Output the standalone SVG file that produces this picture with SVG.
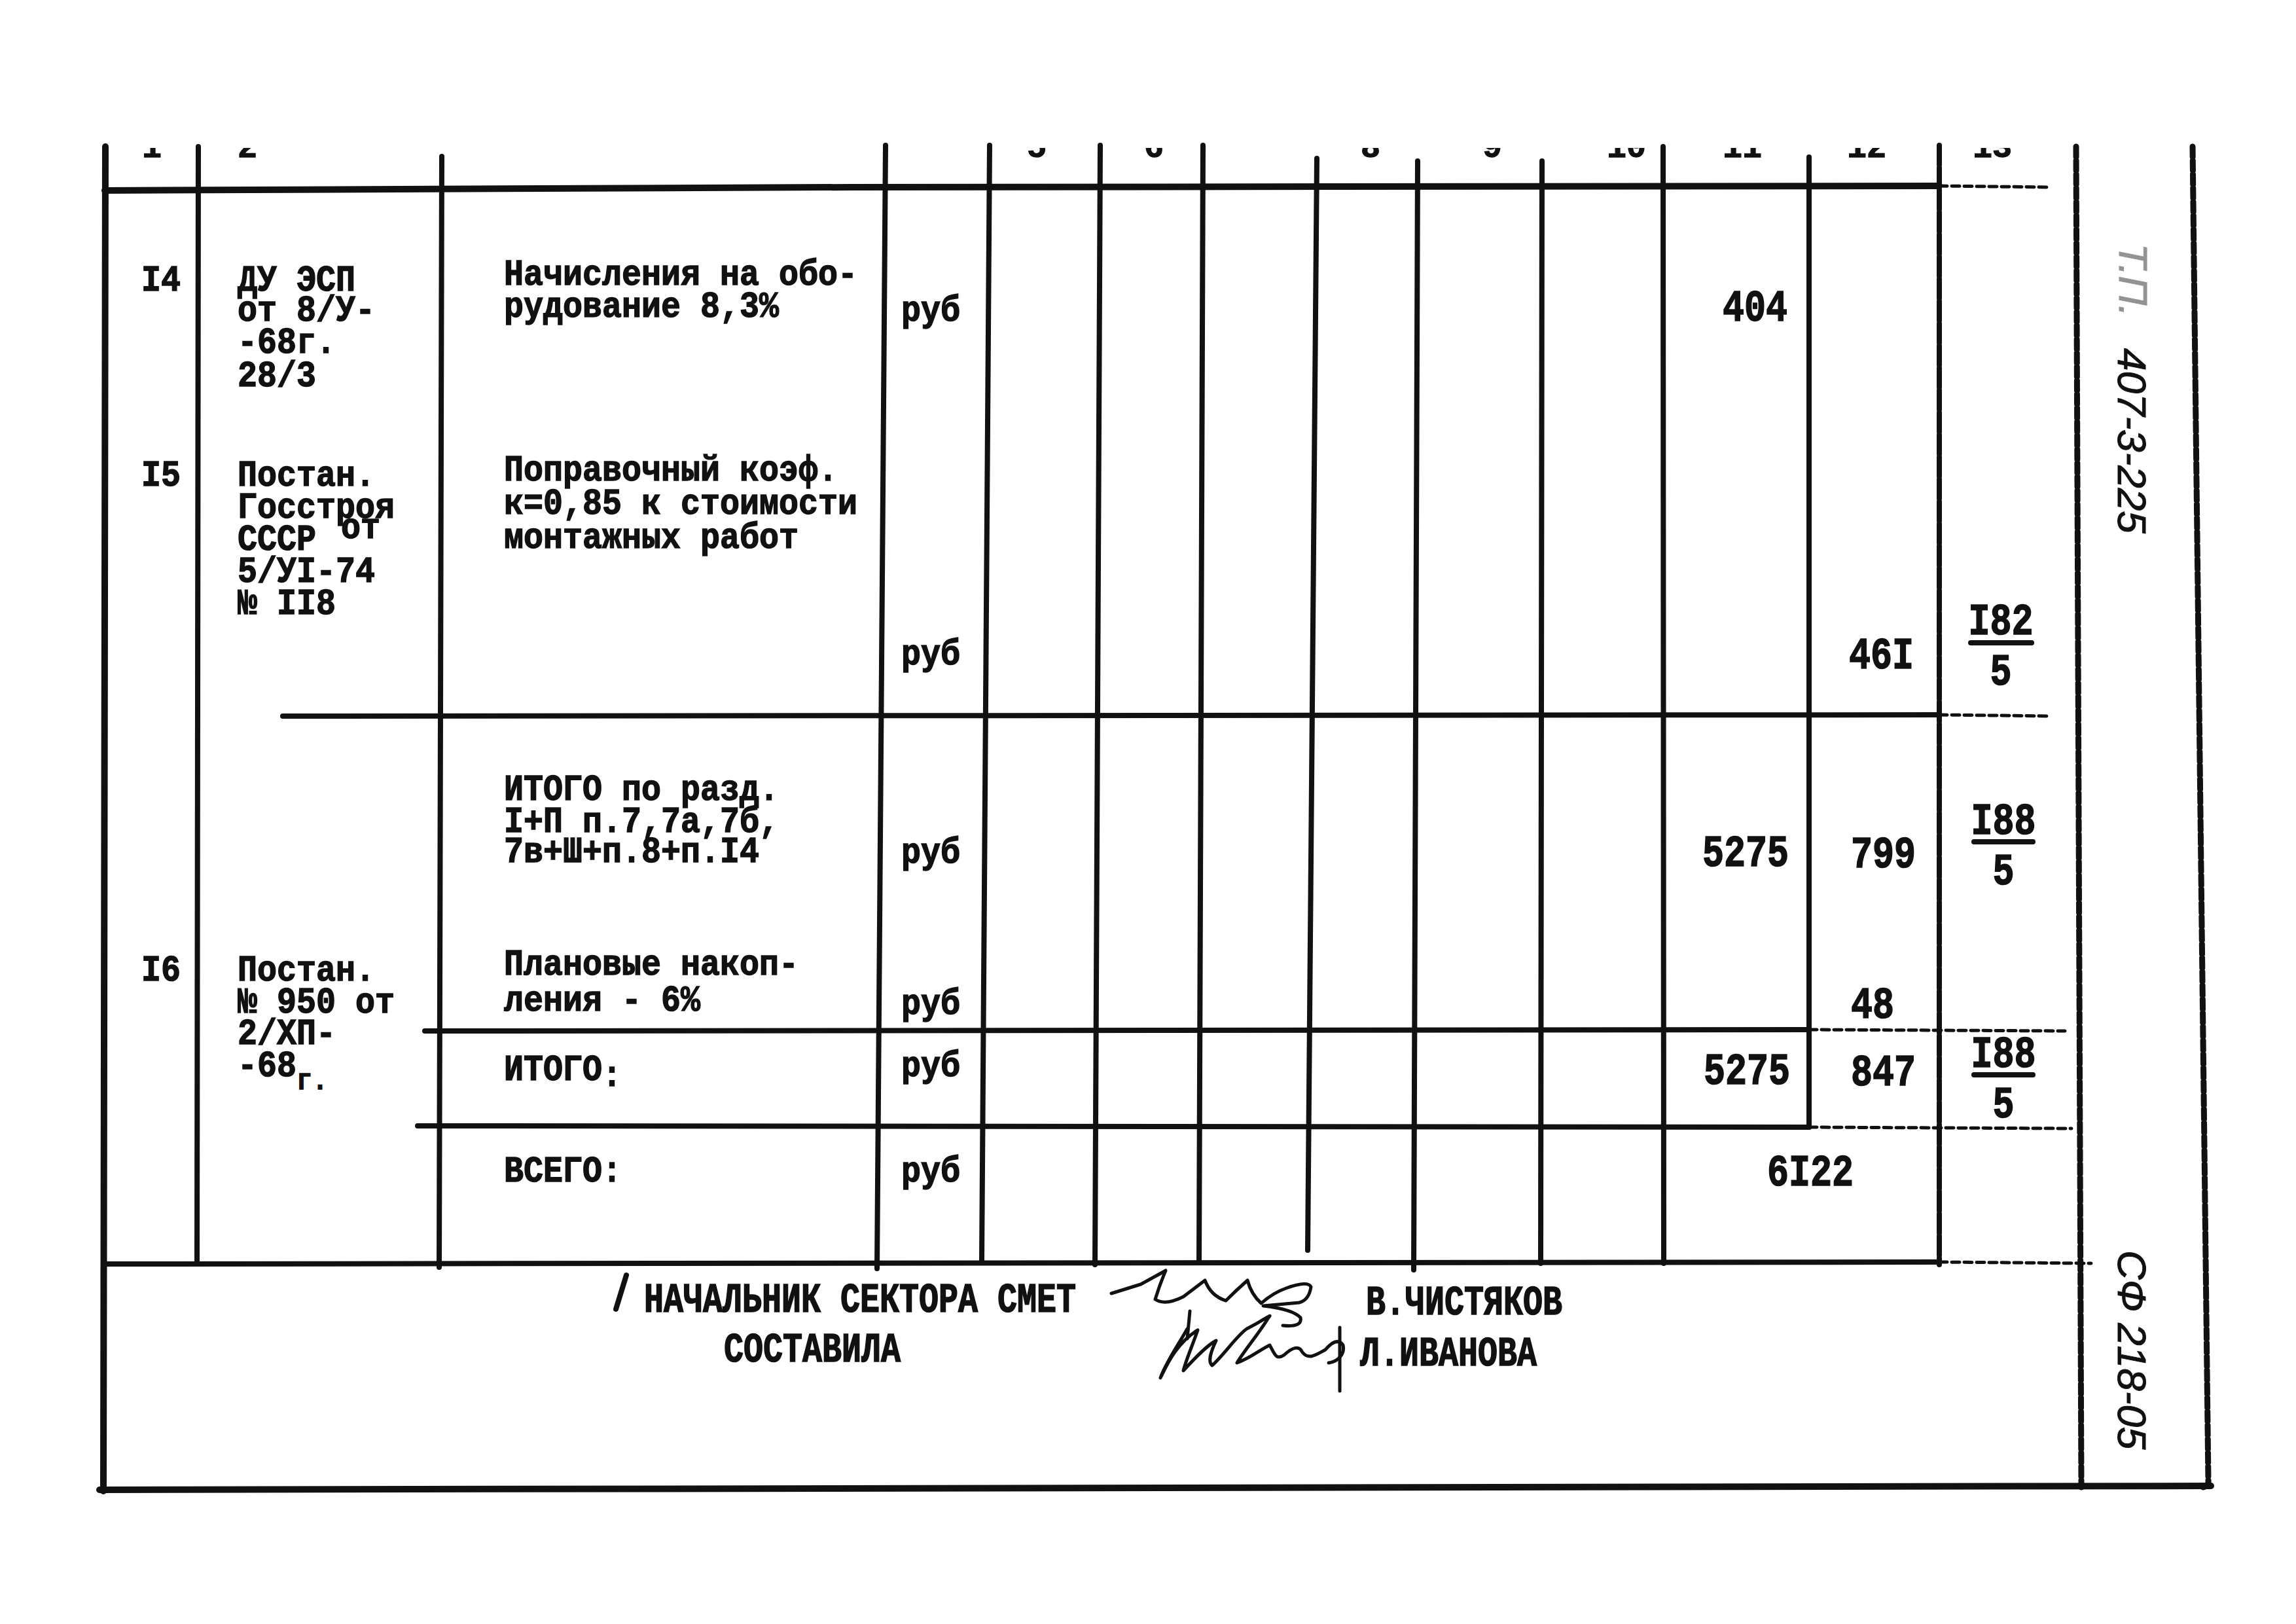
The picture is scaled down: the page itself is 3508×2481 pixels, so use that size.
<svg xmlns="http://www.w3.org/2000/svg" width="3508" height="2481" viewBox="0 0 3508 2481">
<defs>
<style>
.t { font-family: "Liberation Mono", "DejaVu Sans Mono", monospace; font-weight: bold; font-size: 50px; fill: #111; stroke: #111; stroke-width: 1.3; }
.n { font-family: "Liberation Mono", "DejaVu Sans Mono", monospace; font-weight: bold; font-size: 55px; fill: #111; stroke: #111; stroke-width: 1.3; }
.c { text-anchor: middle; }
.e { text-anchor: end; }
.ln { stroke: #111; stroke-width: 8; fill: none; stroke-linecap: round; }
.thick { stroke-width: 10; }
.dash { stroke-dasharray: 12 7; stroke-width: 5; }
.fdash { stroke-dasharray: 16 5; stroke-width: 9; }
.sig { stroke: #111; stroke-width: 5; fill: none; stroke-linecap: round; stroke-linejoin: round; }
.hand { font-family: "Liberation Sans", "DejaVu Sans", sans-serif; font-style: italic; font-size: 62px; fill: #111; stroke: #111; stroke-width: 1; }
.faint { opacity: 0.45; }
</style>
<clipPath id="topclip"><rect x="0" y="226" width="3508" height="60"/></clipPath>
</defs>
<rect width="3508" height="2481" fill="#ffffff"/>

<!-- header column numbers (cut off at page top) -->
<g id="header-numbers" clip-path="url(#topclip)">
<text class="t c" x="232" y="240">1</text>
<text class="t c" x="378" y="240">2</text>
<text class="t c" x="1584" y="240">5</text>
<text class="t c" x="1763" y="240">6</text>
<text class="t c" x="2094" y="240">8</text>
<text class="t c" x="2280" y="240">9</text>
<text class="t c" x="2485" y="240">10</text>
<text class="t c" x="2662" y="240">11</text>
<text class="t c" x="2852" y="240">12</text>
<text class="t c" x="3044" y="240">13</text>
</g>

<g id="grid">
<!-- horizontal lines -->
<path class="ln thick" d="M160 291 L1300 286 L2963 284"/>
<path class="ln dash" d="M2963 284 L3130 286"/>
<path class="ln" d="M432 1094 L2963 1092"/>
<path class="ln dash" d="M2963 1092 L3132 1094"/>
<path class="ln" d="M649 1575 L2764 1573"/>
<path class="ln dash" d="M2764 1573 L3155 1575"/>
<path class="ln" d="M638 1720 L2764 1722"/>
<path class="ln dash" d="M2764 1722 L3165 1724"/>
<path class="ln" d="M160 1931 L2963 1928"/>
<path class="ln dash" d="M2963 1928 L3195 1930"/>
<path class="ln thick" d="M152 2276 L3378 2270"/>
<!-- vertical lines -->
<path class="ln thick" d="M161 224 L158 2278"/>
<path class="ln" d="M303 224 L301 1928"/>
<path class="ln" d="M675 239 L671 1936"/>
<path class="ln" d="M1353 222 L1340 1938"/>
<path class="ln" d="M1512 222 L1500 1925"/>
<path class="ln" d="M1681 222 L1673 1932"/>
<path class="ln" d="M1838 222 L1832 1928"/>
<path class="ln" d="M2012 242 L1998 1910"/>
<path class="ln" d="M2166 246 L2160 1940"/>
<path class="ln" d="M2356 246 L2354 1930"/>
<path class="ln" d="M2541 224 L2542 1930"/>
<path class="ln" d="M2764 240 L2764 1722"/>
<path class="ln" d="M2963 222 L2963 1932" stroke-dasharray="30 4"/>
<path class="ln fdash" d="M3172 224 L3180 2272"/>
<path class="ln fdash" d="M3350 224 L3374 2262 Q3375 2270 3366 2272"/>
</g>

<g id="row-14">
<text class="t" transform="translate(216 444) scale(1 1.12)">I4</text>
<text class="t" transform="translate(363 444) scale(1 1.12)"><tspan x="0" y="0">ДУ ЭСП</tspan><tspan x="0" dy="41.1">от 8/У-</tspan><tspan x="0" dy="43.8">-68г.</tspan><tspan x="0" dy="45.5">28/3</tspan></text>
<text class="t" transform="translate(770 435) scale(1 1.12)"><tspan x="0" y="0">Начисления на обо-</tspan><tspan x="0" dy="43.8">рудование 8,3%</tspan></text>
<text class="t" transform="translate(1377 490) scale(1 1.12)">руб</text>
<text class="n e" transform="translate(2731 490) scale(1 1.25)">404</text>
</g>

<g id="row-15">
<text class="t" transform="translate(216 742) scale(1 1.12)">I5</text>
<text class="t" transform="translate(363 742) scale(1 1.12)"><tspan x="0" y="0">Постан.</tspan><tspan x="0" dy="43.8">Госстроя</tspan><tspan x="0" dy="43.8">СССР</tspan><tspan x="158" dy="-16">от</tspan><tspan x="0" dy="59.8">5/УI-74</tspan><tspan x="0" dy="43.8">№ II8</tspan></text>
<text class="t" transform="translate(770 734) scale(1 1.12)"><tspan x="0" y="0">Поправочный коэф.</tspan><tspan x="0" dy="45.5">к=0,85 к стоимости</tspan><tspan x="0" dy="46.4">монтажных работ</tspan></text>
<text class="t" transform="translate(1377 1015) scale(1 1.12)">руб</text>
<text class="n" transform="translate(2825 1021) scale(1 1.25)">46I</text>
<text class="n c" transform="translate(3057 969) scale(1 1.25)"><tspan x="0" y="0">I82</tspan><tspan x="0" dy="62">5</tspan></text>
<path class="ln" stroke-width="5" d="M3011 982 L3104 982"/>
</g>

<g id="row-subtotal">
<text class="t" transform="translate(770 1222) scale(1 1.12)"><tspan x="0" y="0">ИТОГО по разд.</tspan><tspan x="0" dy="43.8">I+П п.7,7а,7б,</tspan><tspan x="0" dy="41.1">7в+Ш+п.8+п.I4</tspan></text>
<text class="t" transform="translate(1377 1318) scale(1 1.12)">руб</text>
<text class="n e" transform="translate(2733 1323) scale(1 1.25)">5275</text>
<text class="n" transform="translate(2828 1325) scale(1 1.25)">799</text>
<text class="n c" transform="translate(3061 1274) scale(1 1.25)"><tspan x="0" y="0">I88</tspan><tspan x="0" dy="61.6">5</tspan></text>
<path class="ln" stroke-width="5" d="M3016 1286 L3106 1286"/>
</g>

<g id="row-16">
<text class="t" transform="translate(216 1498) scale(1 1.12)">I6</text>
<text class="t" transform="translate(363 1498) scale(1 1.12)"><tspan x="0" y="0">Постан.</tspan><tspan x="0" dy="43.8">№ 950 от</tspan><tspan x="0" dy="42.9">2/ХП-</tspan><tspan x="0" dy="43.8">-68</tspan><tspan font-size="40" dy="18">г.</tspan></text>
<text class="t" transform="translate(770 1489) scale(1 1.12)"><tspan x="0" y="0">Плановые накоп-</tspan><tspan x="0" dy="49.1">ления - 6%</tspan></text>
<text class="t" transform="translate(1377 1549) scale(1 1.12)">руб</text>
<text class="n" transform="translate(2828 1555) scale(1 1.25)">48</text>
</g>

<g id="row-total">
<text class="t" transform="translate(770 1650) scale(1 1.12)">ИТОГО<tspan dy="8">:</tspan></text>
<text class="t" transform="translate(1377 1644) scale(1 1.12)">руб</text>
<text class="n e" transform="translate(2735 1656) scale(1 1.25)">5275</text>
<text class="n" transform="translate(2828 1658) scale(1 1.25)">847</text>
<text class="n c" transform="translate(3061 1630) scale(1 1.25)"><tspan x="0" y="0">I88</tspan><tspan x="0" dy="61.6">5</tspan></text>
<path class="ln" stroke-width="5" d="M3016 1642 L3106 1642"/>
</g>

<g id="row-grand-total">
<text class="t" transform="translate(770 1805) scale(1 1.12)">ВСЕГО:</text>
<text class="t" transform="translate(1377 1805) scale(1 1.12)">руб</text>
<text class="n c" transform="translate(2766 1811) scale(1 1.25)">6I22</text>
</g>

<g id="signatures">
<path class="ln" stroke-width="6" d="M957 1948 L941 2000"/>
<text class="t" transform="translate(984 2004) scale(1 1.25)">НАЧАЛЬНИК СЕКТОРА СМЕТ</text>
<text class="t" transform="translate(1106 2080) scale(1 1.25)">СОСТАВИЛА</text>
<text class="t" transform="translate(2087 2008) scale(1 1.25)">В.ЧИСТЯКОВ</text>
<text class="t" transform="translate(2078 2086) scale(1 1.25)">Л.ИВАНОВА</text>
<path class="sig" stroke-width="7" d="M1698 1976 L1743 1962 Q1776 1944 1781 1941 Q1772 1962 1765 1985 Q1780 1995 1808 1981 L1841 1956 Q1850 1980 1873 1987 Q1890 1970 1906 1956 Q1912 1978 1927 1991 Q1945 1975 1965 1968 Q1998 1956 2003 1966 Q2000 1986 1985 1990 L1930 1995 Q1975 2000 1987 2013 Q1990 2028 1960 2025"/>
<path class="sig" d="M1818 2003 L1814 2045"/>
<path class="sig" d="M1814 2030 C1800 2055 1782 2080 1773 2105 M1773 2105 C1785 2080 1800 2050 1830 2032 C1822 2055 1812 2078 1808 2094 C1830 2070 1845 2055 1858 2048 C1850 2065 1845 2080 1852 2086 C1870 2070 1890 2040 1905 2030 C1935 2015 1945 2005 1938 2013 C1925 2035 1900 2065 1890 2082 C1910 2075 1925 2062 1940 2055 C1948 2070 1950 2078 1962 2070 C1975 2058 1985 2055 1990 2066 C2000 2078 2010 2070 2025 2062 C2035 2050 2045 2045 2052 2055 C2055 2068 2045 2080 2030 2082"/>
<path class="sig" d="M2047 2028 L2047 2125"/>
</g>

<g id="margin-stamps">
<text class="hand faint" transform="translate(3238 372) rotate(90)" font-size="44">Т.П.</text>
<text class="hand" transform="translate(3236 532) rotate(90)">407-3-225</text>
<text class="hand" transform="translate(3236 1910) rotate(90)">СФ 218-05</text>
</g>
</svg>
